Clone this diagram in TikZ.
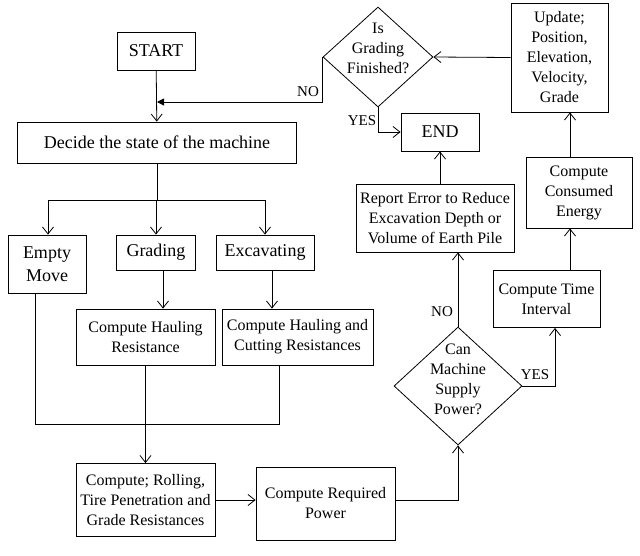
\documentclass[tikz,border=0pt]{standalone}
\usepackage{fontspec}
\setmainfont{Liberation Serif}
\usetikzlibrary{arrows.meta,shapes.geometric,calc}

\tikzset{every picture/.style={line width=0.8pt}}
\tikzset{
  box/.style={draw, align=center, inner sep=0pt, font=\fontsize{16}{20}\selectfont},
  bigbox/.style={box, font=\fontsize{18}{23}\selectfont},
  decision/.style={draw, diamond, inner sep=0pt, minimum width=128, minimum height=118},
  arr/.style={-{Straight Barb[length=7pt,width=11pt]}},
  tagtext/.style={font=\fontsize{15}{18}\selectfont, inner sep=0pt}
}

\begin{document}
\begin{tikzpicture}[x=1pt,y=1pt,yscale=-1]
			\useasboundingbox (0,0) rectangle (640,555);
			\node [bigbox, minimum width=78, minimum height=38] (start) at (156,51) {START};
			\node [bigbox, minimum width=279, minimum height=41] (decide) at (157,142.5) {Decide the state of the machine};
			\node [bigbox, minimum width=78, minimum height=58] (empty) at (47,264) {Empty\\Move};
			\node [bigbox, minimum width=79, minimum height=35] (grading) at (156,252.5) {Grading};
			\node [bigbox, minimum width=98, minimum height=35] (excav) at (265,252.5) {Excavating};
			\node [box, minimum width=139, minimum height=56] (haul) at (145.5,337) {Compute Hauling\\Resistance};
			\node [box, minimum width=151, minimum height=56] (cut) at (297.5,337) {Compute Hauling and\\Cutting Resistances};
			\node [box, minimum width=139, minimum height=73] (rolling) at (145.5,500) {Compute; Rolling,\\Tire Penetration and\\Grade Resistances};
			\node [box, minimum width=139, minimum height=73] (power) at (325.5,503.5) {Compute Required\\Power};
			\node [decision, label={[box, draw=none, yshift=7]center:Can\\Machine\\Supply\\Power?}] (can) at (458,386) {};
			\node [box, minimum width=107, minimum height=57] (time) at (546.5,299) {Compute Time\\Interval};
			\node [box, minimum width=106, minimum height=71] (energy) at (579,192.5) {Compute\\Consumed\\Energy};
			\node [box, minimum width=97, minimum height=109] (update) at (559.5,57.5) {Update;\\Position,\\Elevation,\\Velocity,\\Grade};
			\node [decision, minimum width=110, minimum height=100, label={[box, draw=none, yshift=9]center:Is\\Grading\\Finished?}] (finished) at (378,57) {};
			\node [bigbox, minimum width=78, minimum height=38] (end) at (440,132) {END};
			\node [box, minimum width=158, minimum height=68] (report) at (435,218) {Report Error to Reduce\\Excavation Depth or\\Volume of Earth Pile};
			\coordinate (split) at (157,200);
			\coordinate (join) at (145.5,424);
			\coordinate (back) at (157,102);
			\draw [arr] (start) -- (decide);
			\draw (decide.south) -- (split);
			\draw [arr] (split) -| ([xshift=1]empty.north);
			\draw [arr] (split) -| (grading.north);
			\draw [arr] (split) -| (excav.north);
			\draw [arr] ([xshift=7]grading.south) -- ([xshift=7]grading.south |- haul.north);
			\draw [arr] ([xshift=7]excav.south) -- ([xshift=7]excav.south |- cut.north);
			\draw ([xshift=-12]empty.south) |- (join);
			\draw ([xshift=-18]cut.south) |- (join);
			\draw [arr] (haul) -- (rolling);
			\draw [arr] (rolling.east) -- (rolling.east -| power.west);
			\draw [arr] (rolling.east -| power.east) -| (can.south);
			\draw [arr] (can.north) -- (can.north |- report.south);
			\draw [arr] (can.east) -| ([xshift=8.5]time.south);
			\draw [arr] ([xshift=-9]energy.south |- time.north) -- ([xshift=-9]energy.south);
			\draw [arr] ([xshift=-9]energy.north) -- ([xshift=-9]energy.north |- update.south);
			\draw [arr] (update.west) -- (finished.east);
			\draw [arr] (report.north -| end.south) -- (end.south);
			\draw [arr] (finished.south) |- (end.west);
			\draw [-{Triangle[length=7pt,width=7pt]}] (finished.west) |- (back);
			\node [tagtext] (nogrd) at (308,92) {NO};
			\node [tagtext] (yesgrd) at (362,121) {YES};
			\node [tagtext] (nocan) at (442,312) {NO};
			\node [tagtext] (yescan) at (535,375) {YES};
		\end{tikzpicture}
\end{document}
